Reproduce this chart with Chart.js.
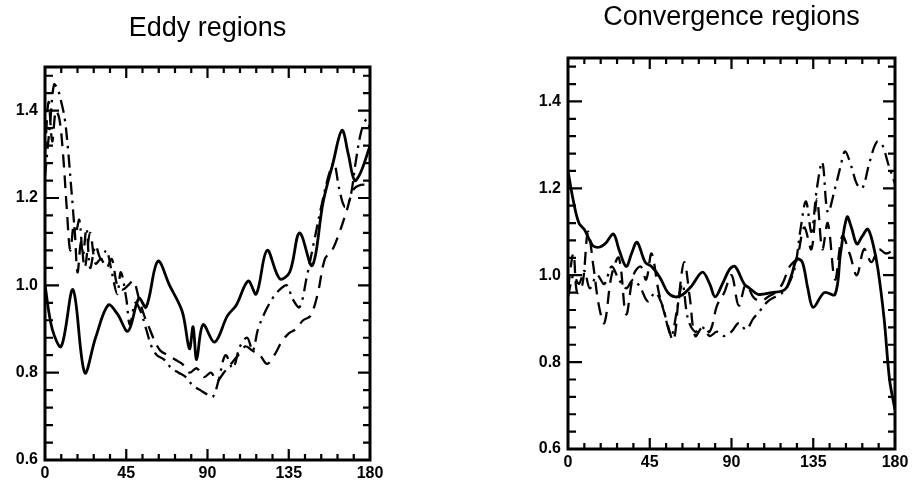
<!DOCTYPE html>
<html>
<head>
<meta charset="utf-8">
<script src="https://cdn.jsdelivr.net/npm/chart.js@4"></script>
<style>
  html, body { margin: 0; padding: 0; background: #fff; overflow: hidden; }
  body { width: 918px; height: 489px; position: relative; }
  canvas { position: absolute; top: 0; }
  #eddyChart { left: 0; }
  #convChart { left: 500px; }
</style>
</head>
<body>
<canvas id="eddyChart" width="400" height="489"></canvas>
<canvas id="convChart" width="418" height="489"></canvas>
<script>
// tick labels shared by both panels
const xTicks = [0, 45, 90, 135, 180];
const yTicks = [0.6, 0.8, 1.0, 1.2, 1.4];

// Eddy regions
const eddySolidX = [0, 4, 9, 15.5, 22, 28, 35, 40, 46, 52, 56, 62.5, 69, 76, 80, 82, 84, 87.5, 94, 101, 106, 112.5, 117, 123, 130, 135.5, 141, 148, 154, 159.5, 164.5, 168, 171.5, 175, 180];
const eddySolidY = [1.0, 0.90, 0.86, 0.99, 0.80, 0.88, 0.955, 0.935, 0.895, 0.97, 0.95, 1.055, 1.0, 0.94, 0.855, 0.905, 0.83, 0.91, 0.87, 0.93, 0.955, 1.01, 0.98, 1.08, 1.015, 1.03, 1.12, 1.045, 1.19, 1.28, 1.355, 1.30, 1.24, 1.26, 1.32];

const eddyDashX = [0, 2, 4, 6, 8, 10, 12, 14, 16, 18, 20, 22, 25, 28, 31, 34, 37, 40, 43, 46, 49, 52, 55, 58, 61, 64, 68, 72, 76, 80, 84, 88, 92, 95, 99, 103, 107, 111, 115, 119, 123, 127, 131, 135, 139, 143, 147, 151, 155, 159, 163, 167, 171, 175, 180];
const eddyDashY = [1.30, 1.42, 1.33, 1.40, 1.38, 1.30, 1.18, 1.08, 1.14, 1.03, 1.10, 1.04, 1.12, 1.05, 1.06, 1.04, 1.06, 1.00, 0.99, 1.00, 1.01, 0.97, 0.93, 0.90, 0.87, 0.85, 0.84, 0.83, 0.82, 0.80, 0.81, 0.79, 0.80, 0.78, 0.80, 0.82, 0.84, 0.86, 0.85, 0.84, 0.82, 0.84, 0.87, 0.89, 0.90, 0.92, 0.93, 0.98, 1.06, 1.08, 1.12, 1.17, 1.22, 1.23, 1.23];

const eddyDotX = [0, 3, 5, 7, 9, 11, 13, 15, 17, 19, 21, 23, 25, 28, 31, 34, 37, 40, 42, 45, 47, 50, 53, 56, 59, 62, 66, 70, 74, 78, 82, 86, 90, 93, 96, 100, 104, 108, 112, 115, 118, 122, 126, 130, 134, 137, 141, 145, 149, 153, 157, 160, 163, 166, 169, 172, 175, 178, 180];
const eddyDotY = [1.25, 1.38, 1.46, 1.45, 1.42, 1.38, 1.30, 1.20, 1.12, 1.15, 1.07, 1.13, 1.04, 1.09, 1.06, 1.08, 1.03, 0.98, 1.03, 0.97, 0.91, 0.96, 0.94, 0.90, 0.86, 0.84, 0.83, 0.81, 0.80, 0.79, 0.77, 0.76, 0.75, 0.745, 0.78, 0.84, 0.81, 0.86, 0.88, 0.85, 0.90, 0.94, 0.97, 0.99, 1.00, 0.97, 0.95, 1.02, 1.10, 1.18, 1.25, 1.28, 1.22, 1.18, 1.20, 1.28, 1.35, 1.38, 1.36];

// Convergence regions
const convSolidX = [0, 3, 6, 9, 12, 14, 17.6, 21, 25, 28, 32, 35, 38, 42.5, 46, 50.6, 55, 59, 63, 68, 74, 78, 81, 85, 89, 92, 97, 100, 104.6, 112, 119.4, 123, 126, 129, 132, 135, 141, 147, 150, 153.6, 156, 159, 162, 165, 168, 170.6, 174, 177, 180];
const convSolidY = [1.24, 1.17, 1.12, 1.105, 1.08, 1.067, 1.065, 1.075, 1.095, 1.06, 1.02, 1.05, 1.076, 1.03, 1.02, 0.995, 0.96, 0.95, 0.955, 0.975, 1.007, 0.98, 0.95, 0.98, 1.014, 1.02, 0.98, 0.97, 0.956, 0.96, 0.967, 1.0, 1.037, 1.03, 0.97, 0.926, 0.96, 0.956, 1.05, 1.134, 1.11, 1.072, 1.09, 1.106, 1.07, 1.014, 0.90, 0.76, 0.69];

const convDashX = [0, 3, 5, 8, 11, 14, 17, 20, 24, 28, 32, 36, 40, 43, 46, 50, 54, 58, 61, 64, 67, 70, 74, 78, 82, 86, 90, 94, 98, 102, 106, 110, 114, 118, 122, 126, 130, 134, 137, 140, 143, 147, 151, 155, 159, 163, 167, 171, 175, 180];
const convDashY = [0.97, 1.05, 0.96, 0.98, 1.10, 1.02, 0.93, 0.89, 1.00, 1.04, 0.91, 1.00, 1.02, 0.99, 1.05, 0.96, 0.90, 0.85, 0.95, 1.03, 0.95, 0.86, 0.88, 0.87, 0.93, 0.96, 1.00, 0.93, 0.98, 0.95, 0.94, 0.95, 0.96, 0.98, 1.02, 1.04, 1.11, 1.06, 1.175, 1.06, 1.12, 0.99, 1.09, 1.05, 1.00, 1.06, 1.03, 1.06, 1.05, 1.06];

const convDotX = [0, 3, 6, 9, 12, 16, 20, 24, 28, 32, 36, 40, 44, 48, 52, 55, 57, 60, 63, 66, 70, 74, 78, 82, 86, 90, 94, 98, 102, 106, 110, 114, 118, 121, 125, 128, 131, 134, 137, 140, 143, 147, 150, 152.5, 156, 159, 162, 166, 170, 173, 176, 180];
const convDotY = [0.95, 1.00, 0.98, 1.01, 0.97, 1.00, 0.98, 1.02, 0.99, 0.97, 0.99, 0.97, 0.94, 0.96, 0.93, 0.88, 0.86, 0.92, 0.98, 0.90, 0.87, 0.88, 0.86, 0.87, 0.86, 0.87, 0.89, 0.875, 0.90, 0.92, 0.94, 0.95, 0.96, 0.975, 1.02, 1.106, 1.17, 1.10, 1.20, 1.26, 1.145, 1.20, 1.25, 1.285, 1.25, 1.21, 1.20, 1.26, 1.307, 1.30, 1.26, 1.21];

function toPoints(xs, ys) {
  return xs.map((x, i) => ({ x: x, y: ys[i] }));
}

// box with inward ticks on all four sides
const boxTicks = {
  id: 'boxTicks',
  afterDatasetsDraw(chart) {
    const ctx = chart.ctx;
    const a = chart.chartArea;
    const xs = chart.scales.x;
    const ys = chart.scales.y;
    ctx.save();
    ctx.strokeStyle = '#000';
    ctx.lineWidth = 2.2;
    ctx.beginPath();
    for (let i = 1; i < 20; i++) {
      const px = xs.getPixelForValue(i * 9);
      const len = i % 5 === 0 ? 11 : 6;
      ctx.moveTo(px, a.bottom);
      ctx.lineTo(px, a.bottom - len);
      ctx.moveTo(px, a.top);
      ctx.lineTo(px, a.top + len);
    }
    for (let i = 1; i < 23; i++) {
      const py = ys.getPixelForValue(0.6 + i * 0.04);
      const major = i % 5 === 0;
      ctx.moveTo(a.left, py);
      ctx.lineTo(a.left + (major ? 14 : 8), py);
      ctx.moveTo(a.right, py);
      ctx.lineTo(a.right - (major ? 12 : 7), py);
    }
    ctx.stroke();
    ctx.lineWidth = 3;
    ctx.strokeRect(a.left, a.top, a.right - a.left, a.bottom - a.top);
    ctx.restore();
  }
};

function makePanel(canvasId, title, solid, dash, dot, box) {
  const tickFont = { family: 'Liberation Sans, Arial, sans-serif', size: 16, weight: 'bold' };
  new Chart(document.getElementById(canvasId), {
    type: 'line',
    data: {
      datasets: [
        { data: solid, borderColor: '#000', borderWidth: 2.8, pointRadius: 0, tension: 0.35 },
        { data: dash, borderColor: '#000', borderWidth: 2.3, borderDash: [13, 8], pointRadius: 0, tension: 0.35 },
        { data: dot, borderColor: '#000', borderWidth: 2.3, borderDash: [13, 6, 2.5, 6], pointRadius: 0, tension: 0.35 },
      ],
    },
    options: {
      responsive: false,
      animation: false,
      devicePixelRatio: 1,
      layout: { padding: { left: 0, right: box.padRight, top: 0, bottom: 0 } },
      plugins: {
        legend: { display: false },
        tooltip: { enabled: false },
        title: {
          display: true,
          text: title,
          fullSize: false,
          color: '#000',
          font: { family: 'Liberation Sans, Arial, sans-serif', size: 27, weight: 'normal' },
          padding: { top: box.titleTop, bottom: box.titleBottom },
        },
      },
      scales: {
        x: {
          type: 'linear',
          min: 0,
          max: 180,
          grid: { display: false, drawTicks: false },
          border: { display: false },
          ticks: { color: '#000', font: tickFont, padding: 4, maxRotation: 0 },
          afterBuildTicks: (s) => { s.ticks = xTicks.map((v) => ({ value: v })); },
          afterFit: (s) => { s.height = box.xHeight; },
        },
        y: {
          min: 0.6,
          max: 1.5,
          grid: { display: false, drawTicks: false },
          border: { display: false },
          ticks: { color: '#000', font: tickFont, padding: 7, callback: (v) => v.toFixed(1) },
          afterBuildTicks: (s) => { s.ticks = yTicks.map((v) => ({ value: v })); },
          afterFit: (s) => { s.width = box.yWidth; },
        },
      },
    },
    plugins: [boxTicks],
  });
}

makePanel('eddyChart', 'Eddy regions',
  toPoints(eddySolidX, eddySolidY), toPoints(eddyDashX, eddyDashY), toPoints(eddyDotX, eddyDotY),
  { padRight: 30, titleTop: 12, titleBottom: 22.6, xHeight: 29, yWidth: 45 });

makePanel('convChart', 'Convergence regions',
  toPoints(convSolidX, convSolidY), toPoints(convDashX, convDashY), toPoints(convDotX, convDotY),
  { padRight: 23, titleTop: 1, titleBottom: 24.6, xHeight: 40, yWidth: 68 });
</script>
</body>
</html>
